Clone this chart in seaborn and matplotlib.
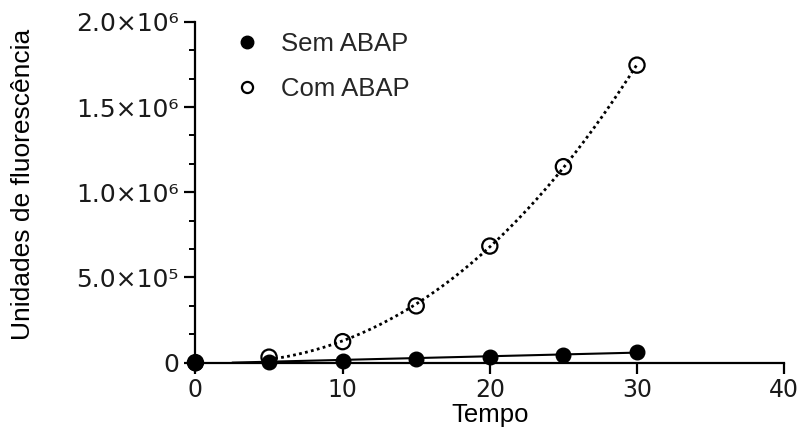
import numpy as np
import pandas as pd
import matplotlib
matplotlib.use("Agg")
import matplotlib.pyplot as plt
import seaborn as sns
from matplotlib.ticker import FixedLocator, MultipleLocator, FixedFormatter
from matplotlib.lines import Line2D

# Fluorescence readings over time
tempo = [0, 5, 10, 15, 20, 25, 30]
sem_abap = [0, 5e3, 1.2e4, 2.3e4, 3.5e4, 4.7e4, 6.4e4]
com_abap = [0, 3.2e4, 1.23e5, 3.33e5, 6.84e5, 1.15e6, 1.746e6]

series_labels = ["Sem ABAP", "Com ABAP"]
x_ticks = [0, 10, 20, 30, 40]
y_ticks = [0, 5e5, 1e6, 1.5e6, 2e6]
y_tick_labels = ["0", "5.0×10⁵", "1.0×10⁶", "1.5×10⁶", "2.0×10⁶"]

sns.set_theme(style="ticks")
plt.rcParams["font.family"] = ["Liberation Sans", "DejaVu Sans"]

df = pd.DataFrame({
    "Tempo": tempo + tempo,
    "valor": sem_abap + com_abap,
    "grupo": [series_labels[0]] * len(tempo) + [series_labels[1]] * len(tempo),
})

fig = plt.figure(figsize=(8.01, 4.46), dpi=100)
ax = fig.add_axes([0.244, 0.187, 0.735, 0.764])

# fitted trend lines
t = np.array(tempo, dtype=float)
lin = np.polyfit(t, np.array(sem_abap), 1)
xs_lin = np.linspace(2.5, 30, 100)
ax.plot(xs_lin, np.polyval(lin, xs_lin), color="black", lw=1.5, zorder=2)

cub = np.polyfit(t, np.array(com_abap), 3)
xs_cub = np.linspace(5, 30, 200)
ax.plot(xs_cub, np.polyval(cub, xs_cub), color="black", lw=2.0,
        linestyle=(0, (1, 1.2)), zorder=2)

d_sem = df[df["grupo"] == series_labels[0]]
d_com = df[df["grupo"] == series_labels[1]]
sns.scatterplot(data=d_sem, x="Tempo", y="valor", ax=ax, marker="o", s=110,
                color="black", edgecolor="black", linewidth=1, zorder=3,
                clip_on=False, legend=False)
sns.scatterplot(data=d_com, x="Tempo", y="valor", ax=ax, marker="o", s=120,
                facecolor="none", edgecolor="black", linewidth=1.6, zorder=4,
                clip_on=False, legend=False)

ax.set_xlim(0, 40)
ax.set_ylim(0, 2e6)
ax.xaxis.set_major_locator(FixedLocator(x_ticks))
ax.yaxis.set_major_locator(FixedLocator(y_ticks))
ax.yaxis.set_major_formatter(FixedFormatter(y_tick_labels))
ax.yaxis.set_minor_locator(MultipleLocator(5e5 / 3))

for side in ("top", "right"):
    ax.spines[side].set_visible(False)
for side in ("left", "bottom"):
    ax.spines[side].set_linewidth(1.6)
    ax.spines[side].set_color("black")

ax.tick_params(axis="both", which="major", direction="out", length=8, width=1.6,
               color="black", labelcolor="#1a1a1a", pad=4)
ax.tick_params(axis="y", which="major", labelsize=18)
ax.tick_params(axis="x", which="major", labelsize=17, pad=3)
ax.tick_params(axis="y", which="minor", direction="out", length=4, width=1.4,
               color="black")
for lbl in ax.get_xticklabels() + ax.get_yticklabels():
    lbl.set_family(["DejaVu Sans"])

ax.set_xlabel("Tempo", fontsize=18.5, color="black")
ax.set_ylabel("Unidades de fluorescência", fontsize=19, color="black")
ax.xaxis.set_label_coords(0.5, -0.118)
ax.yaxis.set_label_coords(-0.273, 0.524)

handles = [
    Line2D([], [], marker="o", linestyle="none", markersize=9,
           markerfacecolor="black", markeredgecolor="black"),
    Line2D([], [], marker="o", linestyle="none", markersize=8,
           markerfacecolor="none", markeredgecolor="black", markeredgewidth=1.6),
]
ax.legend(handles, series_labels, loc="upper left", bbox_to_anchor=(0.026, 1.0),
          frameon=False, fontsize=18.5, handletextpad=0.33, labelspacing=0.8,
          borderaxespad=0)

fig.savefig("out.png", dpi=100, facecolor="white")
